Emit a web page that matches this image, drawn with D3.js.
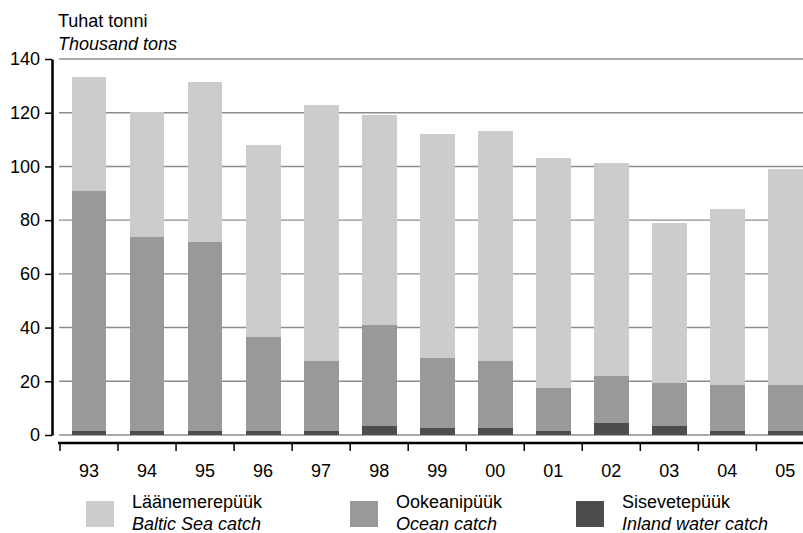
<!DOCTYPE html>
<html>
<head>
<meta charset="utf-8">
<script src="https://d3js.org/d3.v7.min.js"></script>
<style>
  body{ margin:0; background:#fff; }
  svg text{ font-family:"Liberation Sans", Arial, sans-serif; fill:#000; }
  rect{ shape-rendering:crispEdges; }
</style>
</head>
<body>
<svg id="chart" width="803" height="533"></svg>
<script>
  // data (thousand tons)
  var years = ["93","94","95","96","97","98","99","00","01","02","03","04","05"];
  var inland = [1.5, 1.5, 1.5, 1.5, 1.5, 3.4, 2.6, 2.6, 1.5, 4.5, 3.4, 1.5, 1.5];
  var ocean  = [89.3, 72.2, 70.4, 35, 26, 37.6, 25.9, 24.9, 16.1, 17.3, 16, 17.1, 17.1];
  var baltic = [42.5, 46.7, 59.6, 71.5, 95.5, 78, 83.5, 85.7, 85.5, 79.5, 59.5, 65.5, 80.4];
  var yTicks = [0, 20, 40, 60, 80, 100, 120, 140];

  var series = [
    {key:"inland", values:inland, color:"#4d4d4d", fi:"Sisevetepüük", en:"Inland water catch"},
    {key:"ocean", values:ocean, color:"#999999", fi:"Ookeanipüük", en:"Ocean catch"},
    {key:"baltic", values:baltic, color:"#cccccc", fi:"Läänemerepüük", en:"Baltic Sea catch"}
  ];

  var svg = d3.select("#chart");

  var x = d3.scaleBand().domain(years).range([60, 814.4])
    .paddingInner(0.4).paddingOuter(0.2);
  var y = d3.scaleLinear().domain([0, 140]).range([435, 59]);

  //gridlines
  svg.append("g").selectAll("line")
    .data(yTicks)
    .enter().append("line")
    .attr("x1", 59).attr("x2", 803)
    .attr("y1", function(d){ return y(d); })
    .attr("y2", function(d){ return y(d); })
    .style("stroke", "#8c8c8c")
    .style("stroke-width", 1.4);

  //stack bars
  var rows = years.map(function(yr, i){
    var r = {year:yr};
    series.forEach(function(s){ r[s.key] = s.values[i]; });
    return r;
  });
  var stack = d3.stack().keys(series.map(function(s){ return s.key; }));
  var layers = stack(rows);

  svg.append("g").selectAll("g")
    .data(layers)
    .enter().append("g")
    .attr("fill", function(d, i){ return series[i].color; })
    .selectAll("rect")
    .data(function(d){ return d; })
    .enter().append("rect")
    .attr("x", function(d){ return x(d.data.year); })
    .attr("width", x.bandwidth())
    .attr("y", function(d){ return y(d[1]); })
    .attr("height", function(d){ return y(d[0]) - y(d[1]); });

  //y axis
  var yAxis = svg.append("g").attr("transform", "translate(52,0)")
    .call(d3.axisLeft(y).tickValues(yTicks).tickSize(7).tickSizeOuter(0).tickPadding(5));
  yAxis.select(".domain").style("stroke", "#000").style("stroke-width", 2.6);
  yAxis.selectAll(".tick line").style("stroke", "#000").style("stroke-width", 1.5);
  yAxis.selectAll("text").style("font-size", "18px");

  //x axis
  svg.append("line")
    .attr("x1", 58).attr("x2", 803)
    .attr("y1", 443).attr("y2", 443)
    .style("stroke", "#000").style("stroke-width", 2.6);
  var step = x.step();
  var bounds = years.map(function(d){ return x(d) - x.paddingOuter() * step; });
  svg.append("g").selectAll("line")
    .data(bounds)
    .enter().append("line")
    .attr("x1", function(d){ return d; }).attr("x2", function(d){ return d; })
    .attr("y1", 443).attr("y2", 451)
    .style("stroke", "#000").style("stroke-width", 1.5);
  svg.append("g").selectAll("text")
    .data(years)
    .enter().append("text")
    .attr("x", function(d){ return x(d) + x.bandwidth() / 2; })
    .attr("y", 476.5)
    .attr("text-anchor", "middle")
    .style("font-size", "18px")
    .text(function(d){ return d; });

  //unit title
  svg.append("text").attr("x", 58).attr("y", 27).style("font-size", "18px").text("Tuhat tonni");
  svg.append("text").attr("x", 58).attr("y", 50).style("font-size", "18px")
    .style("font-style", "italic").text("Thousand tons");

  //legend
  var legendX = {baltic:86, ocean:350, inland:576};
  var legend = svg.append("g").selectAll("g")
    .data(series.slice().reverse())
    .enter().append("g")
    .attr("transform", function(d){ return "translate(" + legendX[d.key] + ",0)"; });
  legend.append("rect")
    .attr("x", 0).attr("y", 501).attr("width", 28).attr("height", 26)
    .attr("fill", function(d){ return d.color; });
  legend.append("text")
    .attr("x", 46).attr("y", 508).style("font-size", "18px")
    .text(function(d){ return d.fi; });
  legend.append("text")
    .attr("x", 46).attr("y", 530).style("font-size", "18px").style("font-style", "italic")
    .text(function(d){ return d.en; });
</script>
</body>
</html>
